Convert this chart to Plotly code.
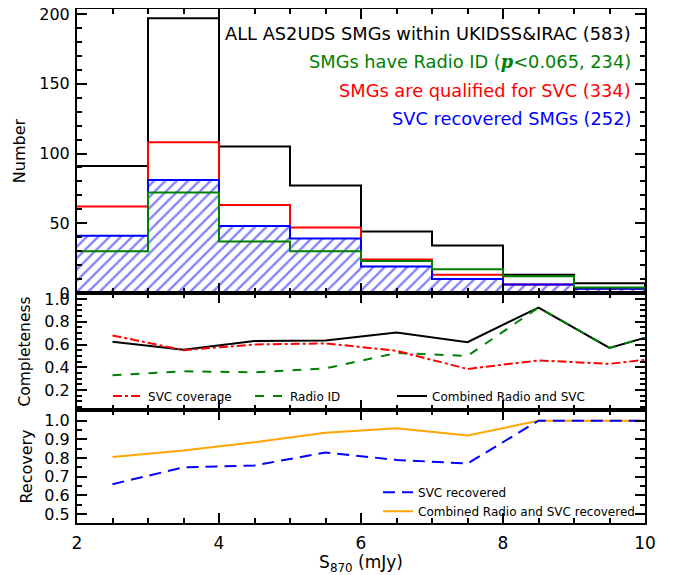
import plotly.graph_objects as go
from plotly.subplots import make_subplots

# ---------------- data ----------------
bin_edges = [2, 3, 4, 5, 6, 7, 8, 9, 10, 11]
bin_centers = [2.5, 3.5, 4.5, 5.5, 6.5, 7.5, 8.5, 9.5, 10.5]

n_all = [91, 197, 105, 77, 44, 34, 13, 7, 4]
n_radio = [30, 72, 37, 30, 23, 17, 12, 4, 3]
n_svc_qual = [62, 108, 63, 47, 24, 13, 6, 3, 2]
n_svc_rec = [41, 81, 48, 39, 19, 10, 6, 3, 2]

comp_svc = [0.68, 0.55, 0.60, 0.61, 0.545, 0.385, 0.46, 0.43, 0.50]
comp_radio = [0.33, 0.365, 0.355, 0.39, 0.525, 0.50, 0.925, 0.57, 0.75]
comp_comb = [0.625, 0.555, 0.63, 0.635, 0.705, 0.62, 0.925, 0.57, 0.75]

rec_svc = [0.66, 0.75, 0.76, 0.83, 0.79, 0.77, 1.0, 1.0, 1.0]
rec_comb = [0.805, 0.84, 0.885, 0.935, 0.96, 0.92, 1.0, 1.0, 1.0]

label_all = "ALL AS2UDS SMGs within UKIDSS&IRAC (583)"
label_radio = "SMGs have Radio ID (<span style='font-family:DejaVu Serif'><b><i>p</i></b></span>&lt;0.065, 234)"
label_svc = "SMGs are qualified for SVC (334)"
label_rec = "SVC recovered SMGs (252)"

BLACK = "#000000"
GREEN = "#008000"
RED = "#ff0000"
BLUE = "#0000ff"
ORANGE = "#ffa500"
FONT = "DejaVu Sans"


def steps(vals):
    return vals + [vals[-1]]


fig = make_subplots(rows=3, cols=1, shared_xaxes=True, vertical_spacing=0)

# ---- top panel: histograms ----
fig.add_trace(go.Bar(x=bin_centers, y=n_svc_rec, width=1.0,
                     marker=dict(color="white", line=dict(width=0),
                                 pattern=dict(shape="/", fgcolor=BLUE, bgcolor="white",
                                              size=8, solidity=0.28)),
                     showlegend=False, hoverinfo="skip"), row=1, col=1)
for vals, col in [(n_all, BLACK), (n_svc_qual, RED), (n_svc_rec, BLUE), (n_radio, GREEN)]:
    fig.add_trace(go.Scatter(x=bin_edges, y=steps(vals), mode="lines", line_shape="hv",
                             line=dict(color=col, width=2), showlegend=False), row=1, col=1)

# ---- middle panel: completeness ----
fig.add_trace(go.Scatter(x=bin_centers, y=comp_comb, mode="lines", name="Combined Radio and SVC",
                         line=dict(color=BLACK, width=2), legend="legend5"), row=2, col=1)
fig.add_trace(go.Scatter(x=bin_centers, y=comp_radio, mode="lines", name="Radio ID",
                         line=dict(color=GREEN, width=2, dash="dash"), legend="legend4"),
              row=2, col=1)
fig.add_trace(go.Scatter(x=bin_centers, y=comp_svc, mode="lines", name="SVC coverage",
                         line=dict(color=RED, width=2, dash="dashdot"), legend="legend2"),
              row=2, col=1)

# ---- bottom panel: recovery ----
fig.add_trace(go.Scatter(x=bin_centers, y=rec_comb, mode="lines",
                         name="Combined Radio and SVC recovered",
                         line=dict(color=ORANGE, width=2), legend="legend3",
                         legendrank=2), row=3, col=1)
fig.add_trace(go.Scatter(x=bin_centers, y=rec_svc, mode="lines", name="SVC recovered",
                         line=dict(color=BLUE, width=2, dash="12px,7px"), legend="legend3",
                         legendrank=1), row=3, col=1)

axis_common = dict(showline=True, linewidth=2, linecolor="black", mirror="allticks",
                   ticks="inside", ticklen=10, tickwidth=1.5, tickcolor="black",
                   showgrid=False, zeroline=False, automargin=False,
                   ticklabeloverflow="allow")
minor_common = dict(ticklen=5, ticks="inside", tickwidth=1.5, tickcolor="black")

for i in (1, 2, 3):
    fig.update_xaxes(range=[2, 10], dtick=2, tick0=0,
                     minor=dict(dtick=0.5, **minor_common),
                     showticklabels=(i == 3), ticklabelstandoff=4,
                     tickfont=dict(family=FONT, size=17, color="black"),
                     row=i, col=1, **axis_common)

fig.update_xaxes(title=dict(text="S<sub>870</sub> (mJy)", font=dict(family=FONT, size=17),
                            standoff=3), row=3, col=1)

yfont = dict(family=FONT, size=16, color="black")
fig.update_yaxes(range=[0, 203.6], tick0=0, dtick=50,
                 minor=dict(dtick=10, **minor_common), tickfont=yfont, ticklabelstandoff=2,
                 title=dict(text="Number", font=dict(family=FONT, size=16), standoff=10),
                 row=1, col=1, **axis_common)
fig.update_yaxes(range=[0.024, 1.053], tick0=0, dtick=0.2, tickformat=".1f",
                 minor=dict(dtick=0.05, **minor_common), tickfont=yfont, ticklabelstandoff=2,
                 title=dict(text="Completeness", font=dict(family=FONT, size=15.5), standoff=10),
                 row=2, col=1, **axis_common)
fig.update_yaxes(range=[0.452, 1.057], tick0=0, dtick=0.1, tickformat=".1f",
                 minor=dict(dtick=0.05, **minor_common), tickfont=yfont, ticklabelstandoff=2,
                 title=dict(text="Recovery", font=dict(family=FONT, size=16), standoff=8),
                 row=3, col=1, **axis_common)

fig.update_layout(yaxis=dict(domain=[0.4475, 1.0]),
                  yaxis2=dict(domain=[0.2198, 0.4475]),
                  yaxis3=dict(domain=[0.0, 0.2198]))

# top-panel legend text
ann_y = [0.9514, 0.8969, 0.8424, 0.7879]
for txt, col, yy in zip([label_all, label_radio, label_svc, label_rec],
                        [BLACK, GREEN, RED, BLUE], ann_y):
    fig.add_annotation(text=txt, xref="paper", yref="paper", x=0.979, y=yy,
                       xanchor="right", yanchor="middle", showarrow=False,
                       font=dict(family=FONT, size=17.8, color=col))

leg_common = dict(font=dict(family=FONT, size=12, color="black"),
                  bgcolor="rgba(0,0,0,0)", itemwidth=30)
fig.update_layout(
    width=670, height=567,
    margin=dict(l=69, r=33, t=1, b=52),
    paper_bgcolor="white", plot_bgcolor="white",
    font=dict(family=FONT, color="black"),
    barmode="overlay",
    legend2=dict(x=0.0546, xanchor="left", y=0.247, yanchor="middle", **leg_common),
    legend4=dict(x=0.3046, xanchor="left", y=0.247, yanchor="middle", **leg_common),
    legend5=dict(x=0.5546, xanchor="left", y=0.247, yanchor="middle", **leg_common),
    legend3=dict(orientation="v", x=0.530, xanchor="left", y=0.088, yanchor="top",
                 tracegroupgap=0, **leg_common),
)

fig.write_html("out.html")
